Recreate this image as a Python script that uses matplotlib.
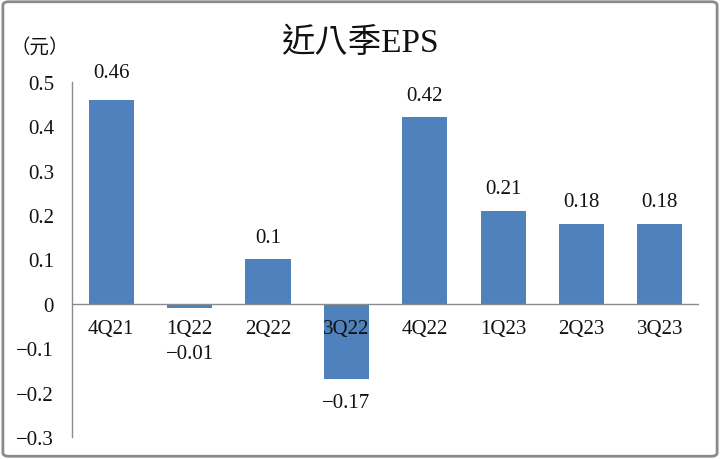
import matplotlib
matplotlib.use("Agg")
import matplotlib.pyplot as plt
from matplotlib.patches import FancyBboxPatch
from matplotlib.ticker import FuncFormatter, MultipleLocator

quarters = ["4Q21", "1Q22", "2Q22", "3Q22", "4Q22", "1Q23", "2Q23", "3Q23"]
eps = [0.46, -0.01, 0.10, -0.17, 0.42, 0.21, 0.18, 0.18]
eps_labels = ["0.46", "\u22120.01", "0.1", "\u22120.17", "0.42", "0.21", "0.18", "0.18"]
title = "近八季EPS"
unit = "（元）"

# label offsets in points (style only)
label_pad = [13, 26, 9, 10, 9, 9, 9, 9]

SERIF = ["Liberation Serif", "DejaVu Serif"]
CJK = ["Noto Sans CJK TC", "DejaVu Sans"]
BAR = "#4F81BD"
TXT = "#111111"

fig = plt.figure(figsize=(7.2, 4.6), dpi=100)
ax = fig.add_axes([0.1, 0.0478, 0.871, 0.772])

x = list(range(len(quarters)))
ax.bar(x, eps, width=0.575, color=BAR, zorder=2)
ax.set_xlim(-0.5, len(quarters) - 0.5)
ax.set_ylim(-0.3, 0.5)
ax.yaxis.set_major_locator(MultipleLocator(0.1))
ax.yaxis.set_major_formatter(FuncFormatter(
    lambda v, p: "0" if abs(v) < 1e-9 else f"{v:.1f}".replace("-", "\u2212")))
ax.tick_params(axis="y", length=0, pad=13, labelsize=15, labelcolor=TXT)
for lab in ax.get_yticklabels():
    lab.set_fontfamily(SERIF)
ax.set_xticks([])

for s in ["top", "right", "bottom"]:
    ax.spines[s].set_visible(False)
ax.spines["left"].set_color("#8C8C8C")
ax.spines["left"].set_linewidth(1)
ax.axhline(0, color="#8C8C8C", lw=1, zorder=3)

# category labels just below the zero line
for xi, q in zip(x, quarters):
    ax.annotate(q, (xi, 0), xytext=(0, -11), textcoords="offset points",
                ha="center", va="top", fontsize=15, family=SERIF,
                color=TXT, zorder=4)

# data labels
for xi, v, lab, pad in zip(x, eps, eps_labels, label_pad):
    if v >= 0:
        ax.annotate(lab, (xi, v), xytext=(0, pad), textcoords="offset points",
                    ha="center", va="bottom", fontsize=15, family=SERIF,
                    color=TXT, zorder=4)
    else:
        ax.annotate(lab, (xi, v), xytext=(0, -pad), textcoords="offset points",
                    ha="center", va="top", fontsize=15, family=SERIF,
                    color=TXT, zorder=4)

fig.text(0.5, 0.905, title, ha="center", va="center", fontsize=24,
         family=["Liberation Serif", "Noto Sans CJK TC"], color=TXT)
fig.text(0.055, 0.897, unit, ha="center", va="center", fontsize=14,
         family=CJK, color=TXT)

border = FancyBboxPatch((0.004, 0.006), 0.992, 0.988,
                        boxstyle="round,pad=0,rounding_size=0.008",
                        transform=fig.transFigure, fill=False,
                        edgecolor="#8A8A8A", lw=2)
fig.patches.append(border)

fig.savefig("out.png", dpi=100)
